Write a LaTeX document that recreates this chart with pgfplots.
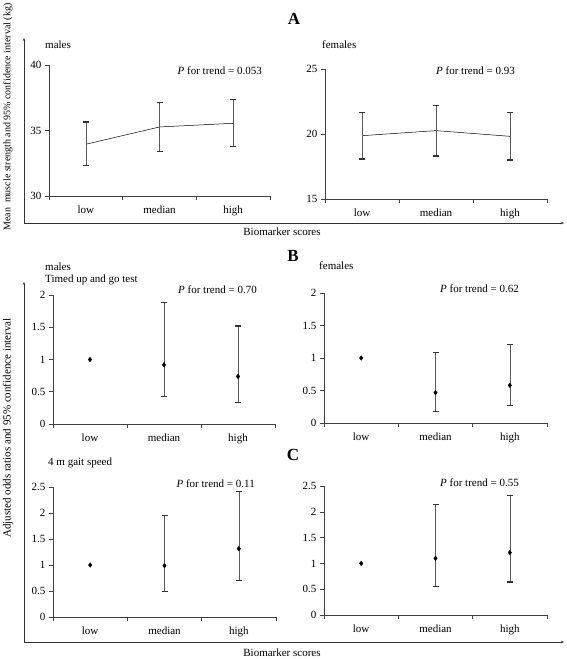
\documentclass[border=0pt]{standalone}
\usepackage{pgfplots}
\pgfplotsset{compat=1.18}
\usepackage{fontspec}
\setmainfont{Liberation Serif}
\usetikzlibrary{arrows.meta}
\newcommand{\fs}{\fontsize{11}{13}\selectfont}
\pgfplotsset{
  panel/.style={
    scale only axis,
    axis x line*=bottom, axis y line*=left,
    axis line style={black!75, line width=0.6pt},
    xmin=0, xmax=3,
    xtick={0.5,1.5,2.5}, xticklabels={low,median,high},
    minor xtick={0,1,2,3},
    tick align=outside,
    major x tick style={draw=none},
    minor tick length=4pt, major tick length=4pt,
    tick style={black!75, line width=0.6pt},
    every tick label/.append style={font=\fs},
    /pgf/number format/assume math mode=true,
    xticklabel style={yshift=-2pt},
    clip=false,
  },
  eb/.style={
    error bars/.cd, y dir=both, y explicit,
    error bar style={black!65, line width=0.6pt},
    error mark options={rotate=90, mark size=3pt, line width=1.1pt, black!80},
  },
  dia/.style={only marks, mark=diamond*, mark size=2.3pt, mark options={fill=black, draw=black}},
}
\begin{document}
\begin{tikzpicture}
\path[use as bounding box] (0pt,0pt) rectangle (567pt,659pt);

% ---------- A ----------
\begin{axis}[panel, at={(49pt,463pt)}, anchor=south west, width=221pt, height=131pt,
  ymin=30, ymax=40, ytick={30,35,40}]
\addplot+[black, line width=0.5pt, no markers, eb] coordinates {
  (0.5,33.95) += (0,1.70) -= (0,1.65)
  (1.5,35.27) += (0,1.87) -= (0,1.84)
  (2.5,35.55) += (0,1.85) -= (0,1.78)
};
\end{axis}
\begin{axis}[panel, at={(325pt,460pt)}, anchor=south west, width=222pt, height=130pt,
  ymin=15, ymax=25, ytick={15,20,25}]
\addplot+[black, line width=0.5pt, no markers, eb] coordinates {
  (0.5,19.87) += (0,1.80) -= (0,1.79)
  (1.5,20.26) += (0,1.92) -= (0,1.95)
  (2.5,19.82) += (0,1.85) -= (0,1.82)
};
\end{axis}

% ---------- B ----------
\begin{axis}[panel, at={(53pt,235pt)}, anchor=south west, width=222pt, height=129pt,
  ymin=0, ymax=2, ytick={0,0.5,1,1.5,2}]
\addplot+[dia, eb] coordinates {
  (1.5,0.918) += (0,0.969) -= (0,0.485)
  (2.5,0.737) += (0,0.783) -= (0,0.397)
};
\addplot+[dia] coordinates {(0.5,1)};
\end{axis}
\begin{axis}[panel, at={(324pt,236pt)}, anchor=south west, width=223pt, height=130pt,
  ymin=0, ymax=2, ytick={0,0.5,1,1.5,2}]
\addplot+[dia, eb] coordinates {
  (1.5,0.467) += (0,0.613) -= (0,0.293)
  (2.5,0.580) += (0,0.625) -= (0,0.310)
};
\addplot+[dia] coordinates {(0.5,1)};
\end{axis}

% ---------- C ----------
\begin{axis}[panel, at={(53pt,42pt)}, anchor=south west, width=223pt, height=130pt,
  ymin=0, ymax=2.5, ytick={0,0.5,1,1.5,2,2.5}]
\addplot+[dia, eb] coordinates {
  (1.5,0.987) += (0,0.973) -= (0,0.500)
  (2.5,1.314) += (0,1.103) -= (0,0.604)
};
\addplot+[dia] coordinates {(0.5,1)};
\end{axis}
\begin{axis}[panel, at={(324pt,44pt)}, anchor=south west, width=223pt, height=129pt,
  ymin=0, ymax=2.5, ytick={0,0.5,1,1.5,2,2.5}]
\addplot+[dia, eb] coordinates {
  (1.5,1.10) += (0,1.05) -= (0,0.555)
  (2.5,1.21) += (0,1.11) -= (0,0.570)
};
\addplot+[dia] coordinates {(0.5,1)};
\end{axis}

% ---------- frame lines ----------
\draw[black!80, line width=0.9pt, -{Stealth[length=3pt,width=2.5pt]}] (24pt,436pt) -- (24pt,621pt);
\draw[black!80, line width=0.9pt, -{Stealth[length=3pt,width=2.5pt]}] (24pt,436pt) -- (564pt,436pt);
\draw[black!80, line width=0.9pt, -{Stealth[length=3pt,width=2.5pt]}] (24pt,17pt) -- (24pt,377pt);
\draw[black!80, line width=0.9pt, -{Stealth[length=3pt,width=2.5pt]}] (24pt,17pt) -- (564pt,17pt);

% ---------- texts ----------
\begin{scope}[every node/.style={inner sep=0pt, font=\fs}]
\node[font=\fontsize{17}{19}\selectfont\bfseries] at (294pt,640pt) {A};
\node[font=\fontsize{17}{19}\selectfont\bfseries] at (293pt,403pt) {B};
\node[font=\fontsize{17}{19}\selectfont\bfseries] at (293pt,204pt) {C};
\node[anchor=west] at (45pt,614pt) {males};
\node[anchor=east] at (262pt,588pt) {\textit{P} for trend = 0.053};
\node[anchor=west] at (322pt,614pt) {females};
\node[anchor=east] at (515pt,588pt) {\textit{P} for trend = 0.93};
\node at (282pt,427pt) {Biomarker scores};
\node[anchor=west] at (45pt,392pt) {males};
\node[anchor=west] at (45pt,379pt) {Timed up and go test};
\node[anchor=east] at (257pt,369pt) {\textit{P} for trend = 0.70};
\node[anchor=west] at (319pt,393pt) {females};
\node[anchor=east] at (519pt,370pt) {\textit{P} for trend = 0.62};
\node[anchor=west] at (48pt,196pt) {4 m gait speed};
\node[anchor=east] at (255pt,175pt) {\textit{P} for trend = 0.11};
\node[anchor=east] at (519pt,176pt) {\textit{P} for trend = 0.55};
\node at (282pt,6pt) {Biomarker scores};
\node[rotate=90, font=\fontsize{10}{12}\selectfont] at (8pt,542pt) {Mean\ \ muscle strength and 95\% confidence interval (kg)};
\node[rotate=90] at (8pt,231pt) {Adjusted odds ratios and 95\% confidence interval};
\end{scope}
\end{tikzpicture}
\end{document}
